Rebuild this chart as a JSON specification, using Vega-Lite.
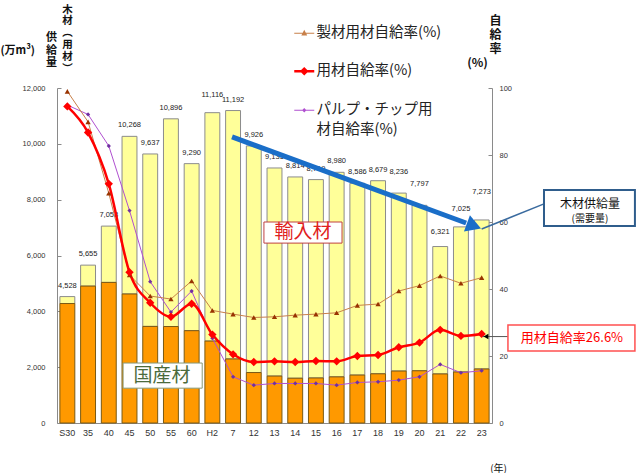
{
  "$schema": "https://vega.github.io/schema/vega-lite/v6.json",
  "width": 435,
  "height": 335,
  "autosize": {"type": "none"},
  "padding": {"left": 57, "top": 88, "right": 144, "bottom": 50},
  "background": "#ffffff",
  "config": {
    "font": "Noto Sans CJK JP",
    "view": {"stroke": null},
    "axis": {
      "grid": false,
      "domainColor": "#8a8a8a",
      "tickColor": "#8a8a8a",
      "labelColor": "#333333",
      "labelFont": "Liberation Sans",
      "titleFont": "Noto Sans CJK JP",
      "titleColor": "#111111"
    }
  },
  "title": {
    "text": ["供", "(万m³)\u3000給", "量"],
    "anchor": "start",
    "frame": "group",
    "align": "right",
    "baseline": "bottom",
    "offset": 0,
    "dx": 0,
    "dy": 75,
    "fontSize": 11,
    "lineHeight": 12.5,
    "fontWeight": "bold",
    "color": "#111111"
  },
  "datasets": {
    "supply": [
      {"year": "S30", "total": 4528, "domestic": 4279},
      {"year": "35", "total": 5655, "domestic": 4903},
      {"year": "40", "total": 7053, "domestic": 5036},
      {"year": "45", "total": 10268, "domestic": 4621},
      {"year": "50", "total": 9637, "domestic": 3460},
      {"year": "55", "total": 10896, "domestic": 3456},
      {"year": "60", "total": 9290, "domestic": 3307},
      {"year": "H2", "total": 11116, "domestic": 2935},
      {"year": "7", "total": 11192, "domestic": 2294},
      {"year": "12", "total": 9926, "domestic": 1807},
      {"year": "13", "total": 9135, "domestic": 1681},
      {"year": "14", "total": 8814, "domestic": 1604},
      {"year": "15", "total": 8719, "domestic": 1613},
      {"year": "16", "total": 8980, "domestic": 1652},
      {"year": "17", "total": 8586, "domestic": 1717},
      {"year": "18", "total": 8679, "domestic": 1762},
      {"year": "19", "total": 8236, "domestic": 1861},
      {"year": "20", "total": 7797, "domestic": 1871},
      {"year": "21", "total": 6321, "domestic": 1757},
      {"year": "22", "total": 7025, "domestic": 1827},
      {"year": "23", "total": 7273, "domestic": 1935}
    ],
    "rates": [
      {"year": "S30", "series": "パルプ・チップ用材自給率(%)", "rate": 94.9},
      {"year": "35", "series": "パルプ・チップ用材自給率(%)", "rate": 92.1},
      {"year": "40", "series": "パルプ・チップ用材自給率(%)", "rate": 82.7},
      {"year": "45", "series": "パルプ・チップ用材自給率(%)", "rate": 63.4},
      {"year": "50", "series": "パルプ・チップ用材自給率(%)", "rate": 42.2},
      {"year": "55", "series": "パルプ・チップ用材自給率(%)", "rate": 33.1},
      {"year": "60", "series": "パルプ・チップ用材自給率(%)", "rate": 39.4},
      {"year": "H2", "series": "パルプ・チップ用材自給率(%)", "rate": 25.3},
      {"year": "7", "series": "パルプ・チップ用材自給率(%)", "rate": 13.8},
      {"year": "12", "series": "パルプ・チップ用材自給率(%)", "rate": 11.3},
      {"year": "13", "series": "パルプ・チップ用材自給率(%)", "rate": 11.8},
      {"year": "14", "series": "パルプ・チップ用材自給率(%)", "rate": 11.8},
      {"year": "15", "series": "パルプ・チップ用材自給率(%)", "rate": 11.8},
      {"year": "16", "series": "パルプ・チップ用材自給率(%)", "rate": 11.3},
      {"year": "17", "series": "パルプ・チップ用材自給率(%)", "rate": 12.1},
      {"year": "18", "series": "パルプ・チップ用材自給率(%)", "rate": 12.3},
      {"year": "19", "series": "パルプ・チップ用材自給率(%)", "rate": 12.8},
      {"year": "20", "series": "パルプ・チップ用材自給率(%)", "rate": 13.8},
      {"year": "21", "series": "パルプ・チップ用材自給率(%)", "rate": 17.5},
      {"year": "22", "series": "パルプ・チップ用材自給率(%)", "rate": 15.0},
      {"year": "23", "series": "パルプ・チップ用材自給率(%)", "rate": 15.6},
      {"year": "S30", "series": "製材用材自給率(%)", "rate": 99.0},
      {"year": "35", "series": "製材用材自給率(%)", "rate": 89.9},
      {"year": "40", "series": "製材用材自給率(%)", "rate": 68.6},
      {"year": "45", "series": "製材用材自給率(%)", "rate": 44.2},
      {"year": "50", "series": "製材用材自給率(%)", "rate": 37.9},
      {"year": "55", "series": "製材用材自給率(%)", "rate": 37.0},
      {"year": "60", "series": "製材用材自給率(%)", "rate": 42.4},
      {"year": "H2", "series": "製材用材自給率(%)", "rate": 33.6},
      {"year": "7", "series": "製材用材自給率(%)", "rate": 32.5},
      {"year": "12", "series": "製材用材自給率(%)", "rate": 31.5},
      {"year": "13", "series": "製材用材自給率(%)", "rate": 31.7},
      {"year": "14", "series": "製材用材自給率(%)", "rate": 32.2},
      {"year": "15", "series": "製材用材自給率(%)", "rate": 32.5},
      {"year": "16", "series": "製材用材自給率(%)", "rate": 32.9},
      {"year": "17", "series": "製材用材自給率(%)", "rate": 35.1},
      {"year": "18", "series": "製材用材自給率(%)", "rate": 35.5},
      {"year": "19", "series": "製材用材自給率(%)", "rate": 39.4},
      {"year": "20", "series": "製材用材自給率(%)", "rate": 41.0},
      {"year": "21", "series": "製材用材自給率(%)", "rate": 43.9},
      {"year": "22", "series": "製材用材自給率(%)", "rate": 41.7},
      {"year": "23", "series": "製材用材自給率(%)", "rate": 43.4},
      {"year": "S30", "series": "用材自給率(%)", "rate": 94.5},
      {"year": "35", "series": "用材自給率(%)", "rate": 86.7},
      {"year": "40", "series": "用材自給率(%)", "rate": 71.4},
      {"year": "45", "series": "用材自給率(%)", "rate": 45.0},
      {"year": "50", "series": "用材自給率(%)", "rate": 35.9},
      {"year": "55", "series": "用材自給率(%)", "rate": 31.7},
      {"year": "60", "series": "用材自給率(%)", "rate": 35.6},
      {"year": "H2", "series": "用材自給率(%)", "rate": 26.4},
      {"year": "7", "series": "用材自給率(%)", "rate": 20.5},
      {"year": "12", "series": "用材自給率(%)", "rate": 18.2},
      {"year": "13", "series": "用材自給率(%)", "rate": 18.4},
      {"year": "14", "series": "用材自給率(%)", "rate": 18.2},
      {"year": "15", "series": "用材自給率(%)", "rate": 18.5},
      {"year": "16", "series": "用材自給率(%)", "rate": 18.4},
      {"year": "17", "series": "用材自給率(%)", "rate": 20.0},
      {"year": "18", "series": "用材自給率(%)", "rate": 20.3},
      {"year": "19", "series": "用材自給率(%)", "rate": 22.6},
      {"year": "20", "series": "用材自給率(%)", "rate": 24.0},
      {"year": "21", "series": "用材自給率(%)", "rate": 27.8},
      {"year": "22", "series": "用材自給率(%)", "rate": 26.0},
      {"year": "23", "series": "用材自給率(%)", "rate": 26.6}
    ]
  },
  "layer": [
    {
      "layer": [
        {
          "data": {"name": "supply"},
          "layer": [
            {
              "mark": {"type": "bar", "fill": "#ffff99", "stroke": "#8c8c8c", "strokeWidth": 1},
              "encoding": {
                "x": {
                  "field": "year", "type": "ordinal",
                  "sort": ["S30","35","40","45","50","55","60","H2","7","12","13","14","15","16","17","18","19","20","21","22","23"],
                  "scale": {"paddingInner": 0.28, "paddingOuter": 0.14},
                  "axis": {
                    "title": "(年)", "titleFontSize": 10, "titleFontWeight": "normal",
                    "titleX": 441, "titleY": 45, "titleAlign": "center", "titleBaseline": "middle",
                    "labelAngle": 0, "labelFontSize": 9, "labelPadding": 5, "ticks": false,
                    "domainColor": "#8a8a8a"
                  }
                },
                "y": {
                  "field": "domestic", "type": "quantitative",
                  "scale": {"domain": [0, 12000], "nice": false},
                  "axis": {
                    "title": ["木", "材", "︵", "用", "材", "︶"],
                    "titleAngle": 0, "titleX": 10, "titleY": -84,
                    "titleAlign": "center", "titleBaseline": "top",
                    "titleFontSize": 10.5, "titleLineHeight": 11.8, "titleFontWeight": "bold",
                    "values": [0, 2000, 4000, 6000, 8000, 10000, 12000],
                    "format": ",d", "labelFontSize": 7.5, "tickSize": -4, "labelPadding": 16
                  }
                },
                "y2": {"field": "total"}
              }
            },
            {
              "mark": {"type": "bar", "fill": "#ff9900", "stroke": "#7a5a14", "strokeWidth": 1},
              "encoding": {
                "x": {"field": "year", "type": "ordinal", "sort": ["S30","35","40","45","50","55","60","H2","7","12","13","14","15","16","17","18","19","20","21","22","23"]},
                "y": {"field": "domestic", "type": "quantitative"}
              }
            },
            {
              "transform": [{"filter": "indexof(['H2','19','20','21','22','23'], datum.year) < 0"}],
              "mark": {"type": "text", "baseline": "bottom", "dy": -7, "fontSize": 7.5, "font": "Liberation Sans", "color": "#222222"},
              "encoding": {
                "x": {"field": "year", "type": "ordinal", "sort": ["S30","35","40","45","50","55","60","H2","7","12","13","14","15","16","17","18","19","20","21","22","23"]},
                "y": {"field": "total", "type": "quantitative"},
                "text": {"field": "total", "type": "quantitative", "format": ",d"}
              }
            },
            {
              "transform": [{"filter": "indexof(['H2','22'], datum.year) >= 0"}],
              "mark": {"type": "text", "baseline": "bottom", "dy": -14, "fontSize": 7.5, "font": "Liberation Sans", "color": "#222222"},
              "encoding": {
                "x": {"field": "year", "type": "ordinal", "sort": ["S30","35","40","45","50","55","60","H2","7","12","13","14","15","16","17","18","19","20","21","22","23"]},
                "y": {"field": "total", "type": "quantitative"},
                "text": {"field": "total", "type": "quantitative", "format": ",d"}
              }
            },
            {
              "transform": [{"filter": "indexof(['19','20'], datum.year) >= 0"}],
              "mark": {"type": "text", "baseline": "bottom", "dy": -17, "fontSize": 7.5, "font": "Liberation Sans", "color": "#222222"},
              "encoding": {
                "x": {"field": "year", "type": "ordinal", "sort": ["S30","35","40","45","50","55","60","H2","7","12","13","14","15","16","17","18","19","20","21","22","23"]},
                "y": {"field": "total", "type": "quantitative"},
                "text": {"field": "total", "type": "quantitative", "format": ",d"}
              }
            },
            {
              "transform": [{"filter": "datum.year == '21'"}],
              "mark": {"type": "text", "baseline": "bottom", "dy": -11, "fontSize": 7.5, "font": "Liberation Sans", "color": "#222222"},
              "encoding": {
                "x": {"field": "year", "type": "ordinal", "sort": ["S30","35","40","45","50","55","60","H2","7","12","13","14","15","16","17","18","19","20","21","22","23"]},
                "y": {"field": "total", "type": "quantitative"},
                "text": {"field": "total", "type": "quantitative", "format": ",d"}
              }
            },
            {
              "transform": [{"filter": "datum.year == '23'"}],
              "mark": {"type": "text", "baseline": "bottom", "dy": -24, "fontSize": 7.5, "font": "Liberation Sans", "color": "#222222"},
              "encoding": {
                "x": {"field": "year", "type": "ordinal", "sort": ["S30","35","40","45","50","55","60","H2","7","12","13","14","15","16","17","18","19","20","21","22","23"]},
                "y": {"field": "total", "type": "quantitative"},
                "text": {"field": "total", "type": "quantitative", "format": ",d"}
              }
            }
          ]
        },
        {
          "data": {"name": "rates"},
          "layer": [
            {
              "transform": [{"filter": "datum.series != '用材自給率(%)'"}],
              "mark": {"type": "line", "strokeWidth": 1},
              "encoding": {
                "x": {"field": "year", "type": "ordinal", "sort": ["S30","35","40","45","50","55","60","H2","7","12","13","14","15","16","17","18","19","20","21","22","23"]},
                "y": {
                  "field": "rate", "type": "quantitative",
                  "scale": {"domain": [0, 100], "nice": false},
                  "axis": {
                    "title": ["自", "給", "率", "(%)\u3000\u3000\u3000\u200b"],
                    "titleAngle": 0, "titleX": 3, "titleY": -73,
                    "titleAlign": "center", "titleBaseline": "top",
                    "titleFontSize": 12, "titleLineHeight": 14, "titleFontWeight": "bold",
                    "values": [0, 20, 40, 60, 80, 100],
                    "labelFontSize": 7.5, "tickSize": -4, "labelPadding": 11
                  }
                },
                "color": {
                  "field": "series", "type": "nominal",
                  "scale": {
                    "domain": ["製材用材自給率(%)", "用材自給率(%)", "パルプ・チップ用材自給率(%)"],
                    "range": ["#c8804a", "#ff0000", "#b050d0"]
                  },
                  "legend": {
                    "title": null,
                    "orient": "none",
                    "legendX": 240,
                    "legendY": -62,
                    "direction": "vertical",
                    "padding": 0,
                    "symbolType": "M-1,0H1",
                    "symbolSize": 400,
                    "symbolStrokeWidth": 1.2,
                    "labelFont": "Noto Sans CJK JP",
                    "labelFontSize": 14.5,
                    "labelColor": "#222222",
                    "labelLimit": 0,
                    "labelOffset": 5,
                    "rowPadding": 23,
                    "labelExpr": "datum.label == 'パルプ・チップ用材自給率(%)' ? ['パルプ・チップ用', '材自給率(%)'] : datum.label",
                    "encode": {
                      "labels": {
                        "update": {"lineHeight": {"value": 20}}
                      },
                      "symbols": {
                        "update": {
                          "fill": {"scale": "color", "field": "value"},
                          "stroke": {"scale": "color", "field": "value"},
                          "strokeWidth": {"signal": "datum.value == '用材自給率(%)' ? 2.5 : 1.2"},
                          "shape": {"signal": "datum.value == '製材用材自給率(%)' ? 'M-1,0H1M-0.2,0.17L0,-0.22L0.2,0.17Z' : datum.value == '用材自給率(%)' ? 'M-1,0H1M-0.25,0L0,-0.25L0.25,0L0,0.25Z' : 'M-1,0H1M-0.13,0L0,-0.13L0.13,0L0,0.13Z'"}
                        }
                      }
                    }
                  }
                }
              }
            },
            {
              "transform": [{"filter": "datum.series == '用材自給率(%)'"}],
              "mark": {"type": "line", "strokeWidth": 2.5, "interpolate": "monotone"},
              "encoding": {
                "x": {"field": "year", "type": "ordinal", "sort": ["S30","35","40","45","50","55","60","H2","7","12","13","14","15","16","17","18","19","20","21","22","23"]},
                "y": {"field": "rate", "type": "quantitative"},
                "color": {"field": "series", "type": "nominal"}
              }
            },
            {
              "transform": [{"filter": "datum.series == 'パルプ・チップ用材自給率(%)'"}],
              "mark": {"type": "point", "shape": "diamond", "filled": true, "fill": "#7030a0", "opacity": 1, "size": 18},
              "encoding": {
                "x": {"field": "year", "type": "ordinal", "sort": ["S30","35","40","45","50","55","60","H2","7","12","13","14","15","16","17","18","19","20","21","22","23"]},
                "y": {"field": "rate", "type": "quantitative"}
              }
            },
            {
              "transform": [{"filter": "datum.series == '製材用材自給率(%)'"}],
              "mark": {"type": "point", "shape": "triangle-up", "filled": true, "fill": "#993300", "opacity": 1, "size": 28},
              "encoding": {
                "x": {"field": "year", "type": "ordinal", "sort": ["S30","35","40","45","50","55","60","H2","7","12","13","14","15","16","17","18","19","20","21","22","23"]},
                "y": {"field": "rate", "type": "quantitative"}
              }
            },
            {
              "transform": [{"filter": "datum.series == '用材自給率(%)'"}],
              "mark": {"type": "point", "shape": "diamond", "filled": true, "fill": "#ff0000", "opacity": 1, "size": 70},
              "encoding": {
                "x": {"field": "year", "type": "ordinal", "sort": ["S30","35","40","45","50","55","60","H2","7","12","13","14","15","16","17","18","19","20","21","22","23"]},
                "y": {"field": "rate", "type": "quantitative"}
              }
            }
          ]
        }
      ],
      "resolve": {"scale": {"y": "independent"}}
    },
    {
      "data": {"values": [{}]},
      "layer": [
        {
          "mark": {"type": "rule", "color": "#1a6ec8", "strokeWidth": 5},
          "encoding": {
            "x": {"datum": 8.45, "type": "quantitative", "scale": {"domain": [0, 21], "nice": false, "zero": false}, "axis": null},
            "y": {"datum": 85.4, "type": "quantitative", "scale": {"domain": [0, 100], "nice": false}, "axis": null},
            "x2": {"datum": 19.75},
            "y2": {"datum": 59.7}
          }
        },
        {
          "mark": {"type": "point", "shape": "triangle-right", "filled": true, "fill": "#1a6ec8", "opacity": 1, "size": 300, "angle": 20.2},
          "encoding": {
            "x": {"datum": 20.13, "type": "quantitative"},
            "y": {"datum": 58.8, "type": "quantitative"}
          }
        },
        {
          "mark": {"type": "rule", "color": "#3a6b9f", "strokeWidth": 1.5},
          "encoding": {
            "x": {"datum": 20.5, "type": "quantitative"},
            "y": {"datum": 57.9, "type": "quantitative"},
            "x2": {"datum": 23.51},
            "y2": {"datum": 65.4}
          }
        },
        {
          "mark": {"type": "rect", "fill": "#ffffff", "stroke": "#2f5d8c", "strokeWidth": 2},
          "encoding": {
            "x": {"datum": 23.51, "type": "quantitative"},
            "x2": {"datum": 27.9},
            "y": {"datum": 69.55, "type": "quantitative"},
            "y2": {"datum": 58.8}
          }
        },
        {
          "mark": {"type": "text", "fontSize": 12, "color": "#111111", "align": "center", "baseline": "middle"},
          "encoding": {
            "x": {"datum": 25.73, "type": "quantitative"},
            "y": {"datum": 65.4, "type": "quantitative"},
            "text": {"value": "木材供給量"}
          }
        },
        {
          "mark": {"type": "text", "fontSize": 10, "color": "#111111", "align": "center", "baseline": "middle"},
          "encoding": {
            "x": {"datum": 25.73, "type": "quantitative"},
            "y": {"datum": 60.9, "type": "quantitative"},
            "text": {"value": "(需要量)"}
          }
        },
        {
          "mark": {"type": "rule", "color": "#555555", "strokeWidth": 1},
          "encoding": {
            "x": {"datum": 20.55, "type": "quantitative"},
            "y": {"datum": 25.8, "type": "quantitative"},
            "x2": {"datum": 21.77},
            "y2": {"datum": 25.8}
          }
        },
        {
          "mark": {"type": "point", "shape": "triangle-left", "filled": true, "fill": "#000000", "opacity": 1, "size": 30},
          "encoding": {
            "x": {"datum": 20.71, "type": "quantitative"},
            "y": {"datum": 25.8, "type": "quantitative"}
          }
        },
        {
          "mark": {"type": "rect", "fill": "#ffffff", "stroke": "#ff5050", "strokeWidth": 1.5},
          "encoding": {
            "x": {"datum": 21.77, "type": "quantitative"},
            "x2": {"datum": 27.9},
            "y": {"datum": 29.25, "type": "quantitative"},
            "y2": {"datum": 21.5}
          }
        },
        {
          "mark": {"type": "text", "fontSize": 13, "color": "#ff0000", "align": "center", "baseline": "middle"},
          "encoding": {
            "x": {"datum": 24.86, "type": "quantitative"},
            "y": {"datum": 25.4, "type": "quantitative"},
            "text": {"value": "用材自給率26.6%"}
          }
        },
        {
          "mark": {"type": "rect", "fill": "#ffffff", "stroke": "#c04040", "strokeWidth": 1},
          "encoding": {
            "x": {"datum": 9.99, "type": "quantitative"},
            "x2": {"datum": 13.76},
            "y": {"datum": 60.0, "type": "quantitative"},
            "y2": {"datum": 53.7}
          }
        },
        {
          "mark": {"type": "text", "fontSize": 19, "color": "#e02020", "align": "center", "baseline": "middle"},
          "encoding": {
            "x": {"datum": 11.88, "type": "quantitative"},
            "y": {"datum": 56.9, "type": "quantitative"},
            "text": {"value": "輸入材"}
          }
        },
        {
          "mark": {"type": "rect", "fill": "#ffffff", "stroke": "#889977", "strokeWidth": 1},
          "encoding": {
            "x": {"datum": 3.19, "type": "quantitative"},
            "x2": {"datum": 7.01},
            "y": {"datum": 17.9, "type": "quantitative"},
            "y2": {"datum": 10.4}
          }
        },
        {
          "mark": {"type": "text", "fontSize": 19, "color": "#4b6b3c", "align": "center", "baseline": "middle"},
          "encoding": {
            "x": {"datum": 5.07, "type": "quantitative"},
            "y": {"datum": 14.0, "type": "quantitative"},
            "text": {"value": "国産材"}
          }
        }
      ]
    }
  ],
  "resolve": {"scale": {"x": "independent", "y": "independent"}}
}
